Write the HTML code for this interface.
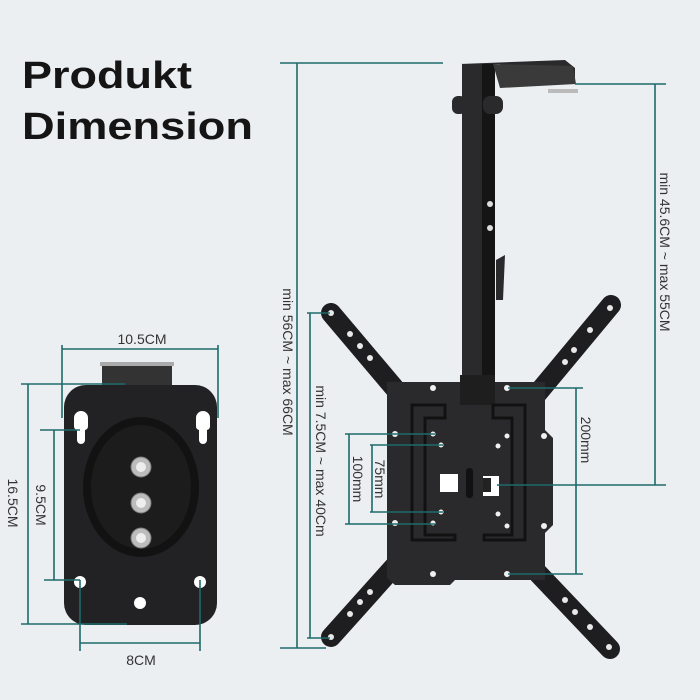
<!DOCTYPE html>
<html><head><style>
html,body{margin:0;padding:0;background:#eceff2;}
svg{display:block}
</style></head><body>
<svg width="700" height="700" viewBox="0 0 700 700" xmlns="http://www.w3.org/2000/svg">
<rect width="700" height="700" fill="#eceff2"/>
<text x="22" y="88" font-family="Liberation Sans, sans-serif" font-weight="bold" font-size="38" fill="#151515" textLength="170" lengthAdjust="spacingAndGlyphs">Produkt</text>
<text x="22" y="139" font-family="Liberation Sans, sans-serif" font-weight="bold" font-size="38" fill="#151515" textLength="231" lengthAdjust="spacingAndGlyphs">Dimension</text>

<!-- pole and ceiling bracket -->
<g fill="#2a2a2c">
<rect x="462" y="64" width="33" height="330"/>
<rect x="482" y="64" width="13" height="330" fill="#151515"/>
<polygon points="460,64 565,60 575,68 575,84 500,84 500,64"/>
<polygon points="493,64 573,66 576,84 500,88" fill="#3a3a3a"/>
<rect x="452" y="96" width="14" height="18" rx="6"/>
<rect x="483" y="96" width="20" height="18" rx="7"/>
<rect x="548" y="89" width="30" height="4" fill="#bbb"/>
<polygon points="496,260 505,255 503,300 496,300"/>
</g>
<circle cx="490" cy="204" r="3" fill="#ddd"/><circle cx="490" cy="228" r="3" fill="#ddd"/>

<!-- TV plate arms -->
<g stroke="#1e1e20" stroke-width="20" stroke-linecap="round">
<line x1="331" y1="313" x2="402" y2="397"/>
<line x1="611" y1="305" x2="532" y2="400"/>
<line x1="400" y1="560" x2="331" y2="637"/>
<line x1="533" y1="568" x2="610" y2="649"/>
</g>
<g fill="#e8e8e8">
<circle cx="331" cy="313" r="3"/><circle cx="350" cy="334" r="3"/><circle cx="360" cy="346" r="3"/><circle cx="370" cy="358" r="3"/>
<circle cx="610" cy="308" r="3"/><circle cx="590" cy="330" r="3"/><circle cx="574" cy="350" r="3"/><circle cx="565" cy="362" r="3"/>
<circle cx="331" cy="637" r="3"/><circle cx="350" cy="614" r="3"/><circle cx="360" cy="602" r="3"/><circle cx="370" cy="592" r="3"/>
<circle cx="609" cy="647" r="3"/><circle cx="590" cy="627" r="3"/><circle cx="575" cy="612" r="3"/><circle cx="565" cy="600" r="3"/>
</g>
<!-- main TV plate -->
<path d="M387,382 H545 V430 L553,438 V525 L545,533 V580 H455 L450,585 H395 L387,578 Z" fill="#2a2a2c"/>
<rect x="460" y="375" width="35" height="30" fill="#1e1e1e"/>
<path d="M412,405 H445 V418 H425 V535 H455 V540 H412 Z" fill="none" stroke="#111" stroke-width="3"/>
<path d="M525,405 H493 V418 H512 V535 H484 V540 H525 Z" fill="none" stroke="#111" stroke-width="3"/>
<rect x="440" y="474" width="18" height="18" fill="#fff"/>
<rect x="483" y="476" width="16" height="20" fill="#fff"/>
<rect x="483" y="478" width="8" height="14" fill="#222"/>
<rect x="466" y="468" width="7" height="30" rx="3" fill="#111"/>
<g fill="#f0f0f0">
<circle cx="433" cy="388" r="3"/><circle cx="507" cy="388" r="3"/><circle cx="433" cy="574" r="3"/><circle cx="507" cy="574" r="3"/>
<circle cx="395" cy="434" r="3"/><circle cx="395" cy="523" r="3"/><circle cx="433" cy="434" r="2.5"/><circle cx="441" cy="445" r="2.5"/>
<circle cx="441" cy="512" r="2.5"/><circle cx="433" cy="523" r="2.5"/><circle cx="507" cy="436" r="2.5"/><circle cx="498" cy="446" r="2.5"/>
<circle cx="498" cy="514" r="2.5"/><circle cx="507" cy="526" r="2.5"/><circle cx="544" cy="436" r="3"/><circle cx="544" cy="526" r="3"/>
</g>

<!-- small plate -->
<rect x="102" y="362" width="70" height="28" fill="#333"/>
<rect x="100" y="362" width="74" height="4" fill="#aaa"/>
<rect x="64" y="385" width="153" height="240" rx="22" fill="#222224"/>
<ellipse cx="141" cy="487" rx="58" ry="70" fill="#121212"/>
<ellipse cx="141" cy="487" rx="50" ry="62" fill="#1c1c1c"/>
<path d="M74,418 a7,7 0 0 1 14,0 v8 a4,4 0 0 1 -3,4 v10 a4,4 0 0 1 -8,0 v-10 a4,4 0 0 1 -3,-4 z" fill="#fff"/>
<path d="M196,418 a7,7 0 0 1 14,0 v8 a4,4 0 0 1 -3,4 v10 a4,4 0 0 1 -8,0 v-10 a4,4 0 0 1 -3,-4 z" fill="#fff"/>
<circle cx="80" cy="582" r="6" fill="#fff"/><circle cx="200" cy="582" r="6" fill="#fff"/><circle cx="140" cy="603" r="6" fill="#fff"/>
<g fill="#bcbcbc" stroke="#777"><circle cx="141" cy="467" r="10"/><circle cx="141" cy="503" r="10"/><circle cx="141" cy="538" r="10"/></g>
<g fill="#eee"><circle cx="141" cy="467" r="5"/><circle cx="141" cy="503" r="5"/><circle cx="141" cy="538" r="5"/></g>

<!-- dimension lines -->
<g stroke="#1e6a6a" stroke-width="1.6" fill="none">
<path d="M280,63 H443 M297,63 V648 M280,648 H326"/>
<path d="M575,84 H666 M655,84 V485 M497,485 H666"/>
<path d="M307,313 H330 M310,313 V638 M307,638 H330"/>
<path d="M508,388 H583 M576,388 V574 M508,574 H583"/>
<path d="M345,434 H435 M349,434 V524 M345,524 H435"/>
<path d="M370,445 H443 M372,445 V512 M370,512 H443"/>
<path d="M62,345 V418 M218,345 V418 M62,349 H218"/>
<path d="M21,384 H125 M28,384 V624 M21,624 H127"/>
<path d="M40,430 H80 M54,430 V580 M44,580 H80"/>
<path d="M80,580 V651 M200,580 V651 M80,643 H200"/>
</g>
<g font-family="Liberation Sans, sans-serif" font-size="14" fill="#333">
<text x="142" y="344" text-anchor="middle">10.5CM</text>
<text x="141" y="665" text-anchor="middle">8CM</text>
<text transform="translate(8,503) rotate(90)" text-anchor="middle">16.5CM</text>
<text transform="translate(36,505) rotate(90)" text-anchor="middle">9.5CM</text>
<text transform="translate(283,362) rotate(90)" text-anchor="middle">min 56CM ~ max 66CM</text>
<text transform="translate(660,252) rotate(90)" text-anchor="middle">min 45.6CM ~ max 55CM</text>
<text transform="translate(316,461) rotate(90)" text-anchor="middle">min 7.5CM ~ max 40Cm</text>
<text transform="translate(581,440) rotate(90)" text-anchor="middle">200mm</text>
<text transform="translate(353,479) rotate(90)" text-anchor="middle">100mm</text>
<text transform="translate(375,479) rotate(90)" text-anchor="middle">75mm</text>
</g>
</svg>
</body></html>
